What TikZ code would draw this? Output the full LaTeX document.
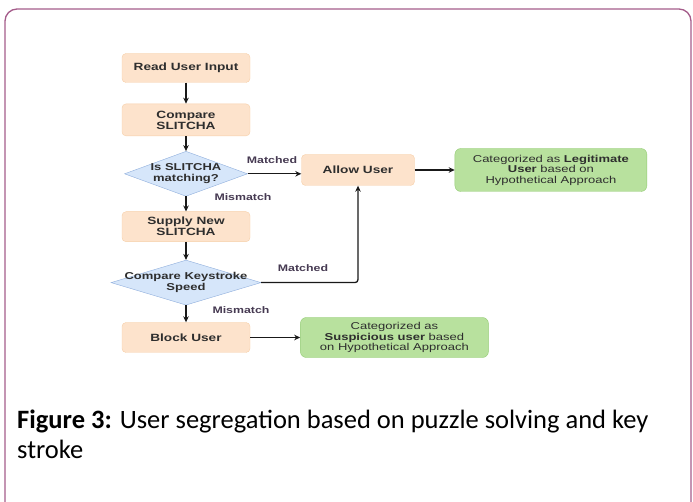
\documentclass[tikz,border=0pt]{standalone}
\usepackage{fontspec}
\setmainfont{Carlito}
\newfontfamily\boxfont[FakeStretch=1.3]{Liberation Sans}
\usetikzlibrary{arrows.meta, shapes.geometric, positioning}

\definecolor{framepurple}{HTML}{A45C8A}
\definecolor{peachfill}{HTML}{FDE3CC}
\definecolor{peachline}{HTML}{F6CFA8}
\definecolor{bluefill}{HTML}{D6E6FA}
\definecolor{blueline}{HTML}{8FAEDC}
\definecolor{greenfill}{HTML}{B8E19E}
\definecolor{greenline}{HTML}{92CB72}
\definecolor{boxtext}{HTML}{2E2E2E}
\definecolor{labeltext}{HTML}{463A52}

\tikzset{
  process/.style={draw=peachline, fill=peachfill, rounded corners=4pt,
    minimum width=128pt, minimum height=30pt, align=center,
    font=\boxfont\bfseries\fontsize{10.5}{11}\selectfont, text=boxtext},
  decision/.style={diamond, draw=blueline, fill=bluefill, inner sep=0pt},
  dtext/.style={font=\boxfont\bfseries\fontsize{10}{10.5}\selectfont,
    text=boxtext, align=center},
  result/.style={draw=greenline, fill=greenfill, rounded corners=6pt,
    align=center, inner sep=2pt,
    font=\boxfont\fontsize{10}{10.5}\selectfont, text=boxtext},
  flow/.style={-{Stealth[length=6pt,width=5.5pt]}, line width=1.3pt, black!90},
  branch/.style={font=\boxfont\bfseries\fontsize{9.5}{10}\selectfont, text=labeltext}
}

\begin{document}
\begin{tikzpicture}[x=1pt, y=-1pt, node distance=15pt]
  \useasboundingbox (0,0) rectangle (693,502);
  \draw [framepurple, line width=1.3pt, rounded corners=12pt] (5,9) rectangle (691,520);

  % left column
  \node (read) [process, minimum height=29pt] at (186,68) {Read User Input};
  \node (compare) [process, minimum height=32pt, below=21pt of read] {Compare\\SLITCHA};
  \node (match) [decision, minimum width=123pt, minimum height=45pt, below=of compare,
    label={[dtext]center:Is SLITCHA\\matching?}] {};
  \node (supply) [process, below=of match] {Supply New\\SLITCHA};
  \node (speed) [decision, minimum width=150pt, minimum height=45pt, below=18pt of supply,
    label={[dtext]center:Compare Keystroke\\Speed}] {};
  \node (block) [process, below=17pt of speed] {Block User};

  % right side
  \node (allow) [process, minimum width=113pt, minimum height=31pt] at (358,170) {Allow User};
  \node (legit) [result, minimum width=192pt, minimum height=43pt, right=40pt of allow]
    {Categorized as \textbf{Legitimate}\\\textbf{User} based on\\Hypothetical Approach};
  \node (suspect) [result, minimum width=188pt, minimum height=40pt, right=50pt of block]
    {Categorized as\\\textbf{Suspicious user} based\\on Hypothetical Approach};

  \draw [flow] (read) -- (compare);
  \draw [flow] (compare) -- (match);
  \draw [flow] (match) -- (supply);
  \draw [flow] (supply) -- (speed);
  \draw [flow] (speed) -- (block);
  \draw [flow] (match.east) -- (allow.west |- match.east);
  \draw [flow, rounded corners=3pt] (speed.east) -| (allow.south);
  \draw [flow] (allow) -- (legit);
  \draw [flow] (block) -- (suspect);

  \node (matchedA) [branch] at (272,160) {Matched};
  \node (mismatchA) [branch] at (243,197) {Mismatch};
  \node (matchedB) [branch] at (303,268) {Matched};
  \node (mismatchB) [branch] at (241,310) {Mismatch};

  % caption
  \node (caption) [anchor=base west, align=left, inner sep=0pt,
    font=\fontsize{26.5}{30}\selectfont] at (17,458)
    {\textbf{Figure 3:} User segregation based on puzzle solving and key\\stroke};
\end{tikzpicture}
\end{document}
